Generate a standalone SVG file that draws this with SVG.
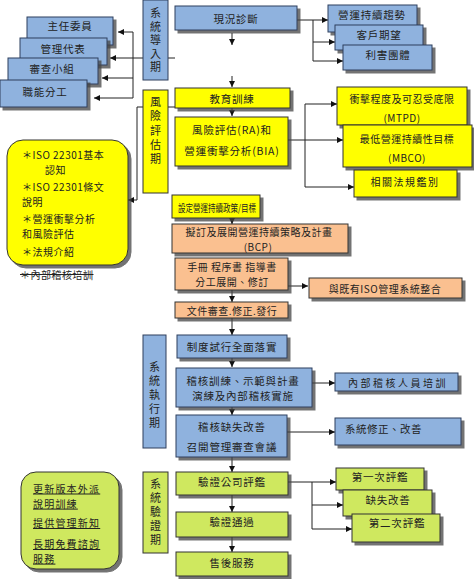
<svg xmlns="http://www.w3.org/2000/svg" width="474" height="579" viewBox="0 0 474 579">
<style>
text{font-family:"Noto Sans CJK TC","Noto Sans CJK SC",sans-serif;font-size:10.5px;letter-spacing:0.8px;fill:#222;text-anchor:middle;dominant-baseline:central}
.b{fill:#8FB2DE;stroke:#2E3F5C;stroke-width:1}
.y{fill:#FFFF00;stroke:#333;stroke-width:1}
.p{fill:#FAC090;stroke:#333;stroke-width:1}
.g{fill:#CFE85E;stroke:#333;stroke-width:1}
.s{filter:url(#sh)}
.ph{font-size:11px;writing-mode:vertical-rl;text-anchor:start}
.sm{font-size:10px;letter-spacing:0.5px}
.c{fill:none;stroke:#222;stroke-width:1}
.a{marker-end:url(#ar)}
.l{text-anchor:start;font-size:10px;letter-spacing:0.5px}
.u{text-decoration:underline}
</style>
<defs>
<filter id="sh" x="-10%" y="-10%" width="130%" height="140%"><feDropShadow dx="3" dy="3" stdDeviation="0.6" flood-color="#444" flood-opacity="0.75"/></filter>
<marker id="ar" viewBox="0 0 10 10" refX="10" refY="5" markerWidth="6" markerHeight="6" orient="auto" markerUnits="userSpaceOnUse"><path d="M0,0L10,5L0,10z" fill="#111"/></marker>
</defs>
<rect width="474" height="579" fill="#fff"/>

<g id="connectors">
<path class="c a" d="M175,58H110"/>
<path class="c" d="M133,32V98"/>
<path class="c a" d="M133,32H118"/>
<path class="c a" d="M133,78H102"/>
<path class="c a" d="M133,98H94"/>
<path class="c a" d="M297,20H328"/>
<path class="c" d="M313,20V61"/>
<path class="c a" d="M313,42H335"/>
<path class="c a" d="M313,61H343"/>
<path class="c a" d="M232,33V45"/>
<path class="c a" d="M232,76V87"/>
<path class="c" d="M175,107H137V200"/>
<path class="c a" d="M137,200H128"/>
<path class="c a" d="M232,108V116"/>
<path class="c a" d="M288,140H343"/>
<path class="c" d="M305,104V187"/>
<path class="c a" d="M305,104H337"/>
<path class="c a" d="M305,187H354"/>
<path class="c a" d="M232,218V224"/>
<path class="c a" d="M288,286H308"/>
<path class="c a" d="M232,290V302"/>
<path class="c a" d="M232,318V335"/>
<path class="c a" d="M232,358V367"/>
<path class="c a" d="M312,383H335"/>
<path class="c a" d="M232,407V415"/>
<path class="c a" d="M287,432H335"/>
<path class="c a" d="M232,440V472"/>
<path class="c a" d="M288,482H336"/>
<path class="c" d="M312,482V529"/>
<path class="c a" d="M312,505H343"/>
<path class="c a" d="M312,529H352"/>
<path class="c a" d="M232,495V512"/>
<path class="c a" d="M232,537V552"/>
</g>

<g id="n-org1"><rect class="b s" x="27" y="17" width="86" height="28"/><text x="70" y="25">主任委員</text></g>
<g id="n-org2"><rect class="b s" x="20" y="38" width="87" height="27"/><text x="63" y="48">管理代表</text></g>
<g id="n-org3"><rect class="b s" x="8" y="58" width="90" height="26"/><text x="52" y="68">審查小組</text></g>
<g id="n-org4"><rect class="b s" x="0" y="80" width="87" height="27"/><text x="45" y="91">職能分工</text></g>

<g id="n-phase1"><rect class="b" x="143" y="0" width="25" height="80"/>
<text class="ph" x="155.5" y="7.5" style="letter-spacing:2.5px">系統導入期</text></g>
<g id="n-phase2"><rect class="y" x="143" y="90" width="25" height="103"/>
<text class="ph" x="155.5" y="96.5" style="letter-spacing:3.2px">風險評估期</text></g>
<g id="n-phase3"><rect class="b" x="143" y="335" width="23" height="113"/>
<text class="ph" x="154.5" y="361.5" style="letter-spacing:3px">系統執行期</text></g>
<g id="n-phase4"><rect class="g" x="143" y="472" width="25" height="81"/>
<text class="ph" x="155.5" y="478.5" style="letter-spacing:3px">系統驗證期</text></g>

<g id="n-diag"><rect class="b s" x="175" y="6" width="122" height="24"/><text x="236" y="18">現況診斷</text></g>
<g id="n-trend"><rect class="b s" x="328" y="5" width="89" height="27"/><text x="372" y="14">營運持續趨勢</text></g>
<g id="n-cust"><rect class="b s" x="335" y="25" width="88" height="25"/><text x="379" y="34">客戶期望</text></g>
<g id="n-stake"><rect class="b s" x="343" y="45" width="89" height="25"/><text x="388" y="54">利害團體</text></g>

<g id="n-edu"><rect class="y s" x="175" y="88" width="115" height="20"/><text x="232" y="98">教育訓練</text></g>
<g id="n-ra"><rect class="y s" x="175" y="117" width="113" height="49"/><text x="232" y="129">風險評估(RA)和<tspan x="232" dy="21">營運衝擊分析(BIA)</tspan></text></g>
<g id="n-mtpd"><rect class="y s" x="337" y="87" width="130" height="38"/><text class="sm" x="402" y="98">衝擊程度及可忍受底限<tspan x="402" dy="19">(MTPD)</tspan></text></g>
<g id="n-mbco"><rect class="y s" x="343" y="125" width="129" height="42"/><text class="sm" x="407" y="138">最低營運持續性目標<tspan x="407" dy="19">(MBCO)</tspan></text></g>
<g id="n-law"><rect class="y s" x="354" y="170" width="103" height="27"/><text class="sm" x="405" y="181" style="letter-spacing:1.5px">相關法規鑑別</text></g>
<g id="n-edubox"><rect class="y s" x="7" y="140" width="121" height="125" rx="16"/>
<text class="l" x="22" y="154">＊ISO 22301基本<tspan x="45" dy="14.6">認知</tspan><tspan x="22" dy="17.4">＊ISO 22301條文</tspan><tspan x="22" dy="14.6">說明</tspan><tspan x="22" dy="17.4">＊營運衝擊分析</tspan><tspan x="22" dy="14.6">和風險評估</tspan><tspan x="22" dy="18.4">＊法規介紹</tspan></text></g>
<g id="n-internal"><text class="l" x="20" y="274" text-decoration="line-through" fill="#333">＊內部稽核培訓</text></g>

<g id="n-policy"><rect class="y s" x="172" y="195" width="88" height="23"/><text x="217" y="207" style="letter-spacing:0;font-size:10px" textLength="78" lengthAdjust="spacingAndGlyphs">設定營運持續政策/目標</text></g>

<g id="n-bcp"><rect class="p s" x="172" y="224" width="176" height="29"/><text class="sm" x="259" y="231.5">擬訂及展開營運持續策略及計畫<tspan x="258" dy="14.6">(BCP)</tspan></text></g>
<g id="n-manual"><rect class="p s" x="175" y="258" width="113" height="32"/><text class="sm" x="232" y="266">手冊 程序書 指導書<tspan x="232" dy="14.6">分工展開、修訂</tspan></text></g>
<g id="n-iso"><rect class="p s" x="309" y="278" width="153" height="20"/><text class="sm" x="385" y="288">與既有ISO管理系統整合</text></g>
<g id="n-doc"><rect class="p s" x="175" y="302" width="113" height="16"/><text class="sm" x="232" y="310">文件審查.修正.發行</text></g>

<g id="n-trial"><rect class="b s" x="177" y="335" width="110" height="23"/><text x="232" y="346">制度試行全面落實</text></g>
<g id="n-audit"><rect class="b s" x="176" y="368" width="136" height="39"/><text x="243" y="380">稽核訓練、示範與計畫<tspan x="243" dy="15.4">演練及內部稽核實施</tspan></text></g>
<g id="n-auditor"><rect class="b s" x="335" y="373" width="123" height="18"/><text class="sm" x="398" y="382" style="letter-spacing:2.5px">內部稽核人員培訓</text></g>
<g id="n-fix"><rect class="b s" x="176" y="415" width="111" height="42"/><text x="232" y="426">稽核缺失改善<tspan x="232" dy="20">召開管理審查會議</tspan></text></g>
<g id="n-sysfix"><rect class="b s" x="335" y="418" width="126" height="27"/><text class="l" x="345" y="428" style="font-size:10.5px">系統修正、改善</text></g>

<g id="n-cert"><rect class="g s" x="176" y="472" width="112" height="23"/><text x="232" y="481">驗證公司評鑑</text></g>
<g id="n-first"><rect class="g s" x="336" y="468" width="88" height="22"/><text x="380" y="476">第一次評鑑</text></g>
<g id="n-defect"><rect class="g s" x="343" y="490" width="89" height="26"/><text x="388" y="499">缺失改善</text></g>
<g id="n-second"><rect class="g s" x="352" y="514" width="88" height="28"/><text x="397" y="522">第二次評鑑</text></g>
<g id="n-pass"><rect class="g s" x="176" y="512" width="112" height="25"/><text x="232" y="521">驗證通過</text></g>
<g id="n-after"><rect class="g s" x="176" y="552" width="112" height="24"/><text x="232" y="562">售後服務</text></g>
<g id="n-service"><rect class="g s" x="21" y="472" width="98" height="97" rx="15"/>
<text class="l u" x="33" y="488" style="letter-spacing:1.2px">更新版本外派<tspan x="33" dy="14.6">說明訓練</tspan><tspan x="33" dy="19.4">提供管理新知</tspan><tspan x="33" dy="21">長期免費諮詢</tspan><tspan x="33" dy="14.6">服務</tspan></text></g>
</svg>
